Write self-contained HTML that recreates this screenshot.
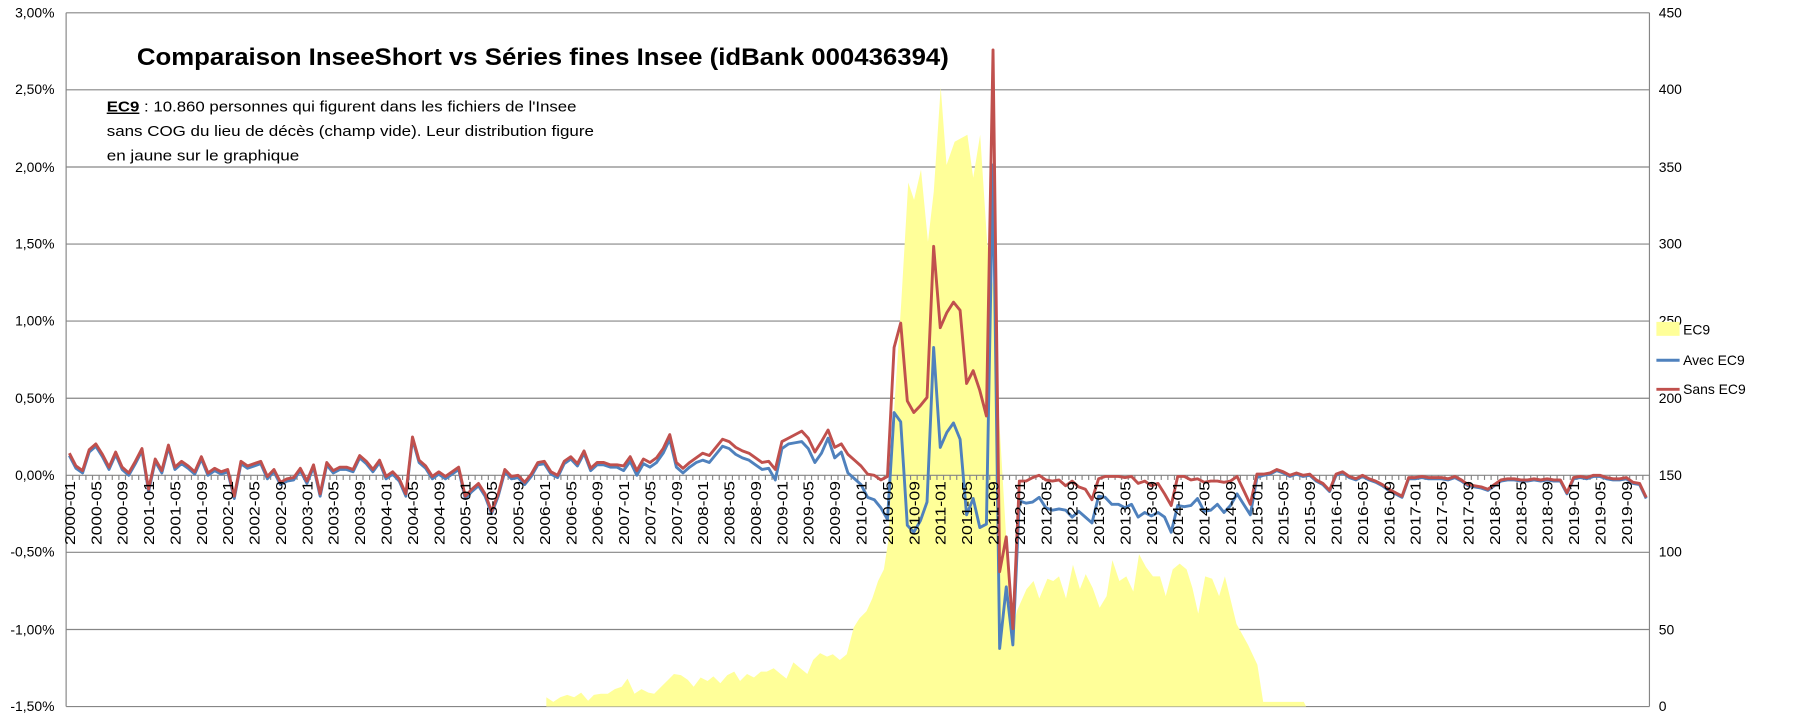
<!DOCTYPE html>
<html><head><meta charset="utf-8"><style>html,body{margin:0;padding:0;background:#fff;overflow:hidden}svg{display:block}text{font-family:"Liberation Sans",Arial,sans-serif;fill:#000}</style></head>
<body>
<svg id="s" width="1813" height="717" viewBox="0 0 1563 617" preserveAspectRatio="none" xmlns="http://www.w3.org/2000/svg">
<rect width="1563" height="617" fill="#fff"/>
<g stroke="#868686" stroke-width="1">
<line x1="57" y1="11" x2="1422" y2="11"/><line x1="57" y1="77.3" x2="1422" y2="77.3"/><line x1="57" y1="143.7" x2="1422" y2="143.7"/><line x1="57" y1="210" x2="1422" y2="210"/><line x1="57" y1="276.3" x2="1422" y2="276.3"/><line x1="57" y1="342.7" x2="1422" y2="342.7"/><line x1="57" y1="475.3" x2="1422" y2="475.3"/><line x1="57" y1="541.7" x2="1422" y2="541.7"/><line x1="57" y1="608" x2="1422" y2="608"/>
</g>
<polygon id="yel" fill="#FFFF99" points=""/>
<g id="ax" stroke="#868686" stroke-width="1"><line x1="57" y1="409" x2="1422" y2="409"/><line x1="57" y1="11" x2="57" y2="608"/><line x1="1422" y1="11" x2="1422" y2="608"/></g>
<polyline id="blue" fill="none" stroke="#4F81BD" stroke-width="2.5" stroke-linejoin="round" points=""/>
<polyline id="red" fill="none" stroke="#C0504D" stroke-width="2.5" stroke-linejoin="round" points=""/>
<g font-size="12" text-anchor="end">
<text x="47" y="15">3,00%</text><text x="47" y="81">2,50%</text><text x="47" y="148">2,00%</text><text x="47" y="214">1,50%</text><text x="47" y="280">1,00%</text><text x="47" y="347">0,50%</text><text x="47" y="413">0,00%</text><text x="47" y="479">-0,50%</text><text x="47" y="546">-1,00%</text><text x="47" y="612">-1,50%</text>
</g>
<g font-size="12">
<text x="1430" y="15">450</text><text x="1430" y="81">400</text><text x="1430" y="148">350</text><text x="1430" y="214">300</text><text x="1430" y="280">250</text><text x="1430" y="347">200</text><text x="1430" y="413">150</text><text x="1430" y="479">100</text><text x="1430" y="546">50</text><text x="1430" y="612">0</text>
</g>
<text x="118" y="56" font-size="21" font-weight="bold" textLength="700" lengthAdjust="spacingAndGlyphs">Comparaison InseeShort vs Séries fines Insee (idBank 000436394)</text>
<g font-size="12.5">
<text x="92" y="96" textLength="405" lengthAdjust="spacingAndGlyphs"><tspan font-weight="bold" text-decoration="underline">EC9</tspan> : 10.860 personnes qui figurent dans les fichiers de l'Insee</text>
<text x="92" y="117" textLength="420" lengthAdjust="spacingAndGlyphs">sans COG du lieu de décès (champ vide).  Leur distribution  figure</text>
<text x="92" y="138" textLength="166" lengthAdjust="spacingAndGlyphs">en jaune sur le graphique</text>
</g>
<rect x="1428" y="277" width="20" height="12" fill="#FFFF99"/>
<line x1="1428" y1="310" x2="1448" y2="310" stroke="#4F81BD" stroke-width="2.5"/>
<line x1="1428" y1="335" x2="1448" y2="335" stroke="#C0504D" stroke-width="2.5"/>
<g font-size="12"><text x="1451" y="288">EC9</text><text x="1451" y="314">Avec EC9</text><text x="1451" y="339">Sans EC9</text></g>
<g font-size="13" text-anchor="end" id="xl">
<text transform="translate(64.5,414) rotate(-90)" textLength="55" lengthAdjust="spacingAndGlyphs">2000-01</text>
<text transform="translate(87.3,414) rotate(-90)" textLength="55" lengthAdjust="spacingAndGlyphs">2000-05</text>
<text transform="translate(110,414) rotate(-90)" textLength="55" lengthAdjust="spacingAndGlyphs">2000-09</text>
<text transform="translate(132.8,414) rotate(-90)" textLength="55" lengthAdjust="spacingAndGlyphs">2001-01</text>
<text transform="translate(155.5,414) rotate(-90)" textLength="55" lengthAdjust="spacingAndGlyphs">2001-05</text>
<text transform="translate(178.3,414) rotate(-90)" textLength="55" lengthAdjust="spacingAndGlyphs">2001-09</text>
<text transform="translate(201,414) rotate(-90)" textLength="55" lengthAdjust="spacingAndGlyphs">2002-01</text>
<text transform="translate(223.8,414) rotate(-90)" textLength="55" lengthAdjust="spacingAndGlyphs">2002-05</text>
<text transform="translate(246.5,414) rotate(-90)" textLength="55" lengthAdjust="spacingAndGlyphs">2002-09</text>
<text transform="translate(269.3,414) rotate(-90)" textLength="55" lengthAdjust="spacingAndGlyphs">2003-01</text>
<text transform="translate(292,414) rotate(-90)" textLength="55" lengthAdjust="spacingAndGlyphs">2003-05</text>
<text transform="translate(314.8,414) rotate(-90)" textLength="55" lengthAdjust="spacingAndGlyphs">2003-09</text>
<text transform="translate(337.5,414) rotate(-90)" textLength="55" lengthAdjust="spacingAndGlyphs">2004-01</text>
<text transform="translate(360.3,414) rotate(-90)" textLength="55" lengthAdjust="spacingAndGlyphs">2004-05</text>
<text transform="translate(383,414) rotate(-90)" textLength="55" lengthAdjust="spacingAndGlyphs">2004-09</text>
<text transform="translate(405.8,414) rotate(-90)" textLength="55" lengthAdjust="spacingAndGlyphs">2005-01</text>
<text transform="translate(428.5,414) rotate(-90)" textLength="55" lengthAdjust="spacingAndGlyphs">2005-05</text>
<text transform="translate(451.3,414) rotate(-90)" textLength="55" lengthAdjust="spacingAndGlyphs">2005-09</text>
<text transform="translate(474,414) rotate(-90)" textLength="55" lengthAdjust="spacingAndGlyphs">2006-01</text>
<text transform="translate(496.8,414) rotate(-90)" textLength="55" lengthAdjust="spacingAndGlyphs">2006-05</text>
<text transform="translate(519.5,414) rotate(-90)" textLength="55" lengthAdjust="spacingAndGlyphs">2006-09</text>
<text transform="translate(542.3,414) rotate(-90)" textLength="55" lengthAdjust="spacingAndGlyphs">2007-01</text>
<text transform="translate(565,414) rotate(-90)" textLength="55" lengthAdjust="spacingAndGlyphs">2007-05</text>
<text transform="translate(587.8,414) rotate(-90)" textLength="55" lengthAdjust="spacingAndGlyphs">2007-09</text>
<text transform="translate(610.5,414) rotate(-90)" textLength="55" lengthAdjust="spacingAndGlyphs">2008-01</text>
<text transform="translate(633.3,414) rotate(-90)" textLength="55" lengthAdjust="spacingAndGlyphs">2008-05</text>
<text transform="translate(656,414) rotate(-90)" textLength="55" lengthAdjust="spacingAndGlyphs">2008-09</text>
<text transform="translate(678.8,414) rotate(-90)" textLength="55" lengthAdjust="spacingAndGlyphs">2009-01</text>
<text transform="translate(701.5,414) rotate(-90)" textLength="55" lengthAdjust="spacingAndGlyphs">2009-05</text>
<text transform="translate(724.3,414) rotate(-90)" textLength="55" lengthAdjust="spacingAndGlyphs">2009-09</text>
<text transform="translate(747,414) rotate(-90)" textLength="55" lengthAdjust="spacingAndGlyphs">2010-01</text>
<text transform="translate(769.8,414) rotate(-90)" textLength="55" lengthAdjust="spacingAndGlyphs">2010-05</text>
<text transform="translate(792.5,414) rotate(-90)" textLength="55" lengthAdjust="spacingAndGlyphs">2010-09</text>
<text transform="translate(815.3,414) rotate(-90)" textLength="55" lengthAdjust="spacingAndGlyphs">2011-01</text>
<text transform="translate(838,414) rotate(-90)" textLength="55" lengthAdjust="spacingAndGlyphs">2011-05</text>
<text transform="translate(860.8,414) rotate(-90)" textLength="55" lengthAdjust="spacingAndGlyphs">2011-09</text>
<text transform="translate(883.5,414) rotate(-90)" textLength="55" lengthAdjust="spacingAndGlyphs">2012-01</text>
<text transform="translate(906.3,414) rotate(-90)" textLength="55" lengthAdjust="spacingAndGlyphs">2012-05</text>
<text transform="translate(929,414) rotate(-90)" textLength="55" lengthAdjust="spacingAndGlyphs">2012-09</text>
<text transform="translate(951.8,414) rotate(-90)" textLength="55" lengthAdjust="spacingAndGlyphs">2013-01</text>
<text transform="translate(974.5,414) rotate(-90)" textLength="55" lengthAdjust="spacingAndGlyphs">2013-05</text>
<text transform="translate(997.3,414) rotate(-90)" textLength="55" lengthAdjust="spacingAndGlyphs">2013-09</text>
<text transform="translate(1020,414) rotate(-90)" textLength="55" lengthAdjust="spacingAndGlyphs">2014-01</text>
<text transform="translate(1042.8,414) rotate(-90)" textLength="55" lengthAdjust="spacingAndGlyphs">2014-05</text>
<text transform="translate(1065.5,414) rotate(-90)" textLength="55" lengthAdjust="spacingAndGlyphs">2014-09</text>
<text transform="translate(1088.3,414) rotate(-90)" textLength="55" lengthAdjust="spacingAndGlyphs">2015-01</text>
<text transform="translate(1111,414) rotate(-90)" textLength="55" lengthAdjust="spacingAndGlyphs">2015-05</text>
<text transform="translate(1133.8,414) rotate(-90)" textLength="55" lengthAdjust="spacingAndGlyphs">2015-09</text>
<text transform="translate(1156.5,414) rotate(-90)" textLength="55" lengthAdjust="spacingAndGlyphs">2016-01</text>
<text transform="translate(1179.3,414) rotate(-90)" textLength="55" lengthAdjust="spacingAndGlyphs">2016-05</text>
<text transform="translate(1202,414) rotate(-90)" textLength="55" lengthAdjust="spacingAndGlyphs">2016-09</text>
<text transform="translate(1224.8,414) rotate(-90)" textLength="55" lengthAdjust="spacingAndGlyphs">2017-01</text>
<text transform="translate(1247.5,414) rotate(-90)" textLength="55" lengthAdjust="spacingAndGlyphs">2017-05</text>
<text transform="translate(1270.3,414) rotate(-90)" textLength="55" lengthAdjust="spacingAndGlyphs">2017-09</text>
<text transform="translate(1293,414) rotate(-90)" textLength="55" lengthAdjust="spacingAndGlyphs">2018-01</text>
<text transform="translate(1315.8,414) rotate(-90)" textLength="55" lengthAdjust="spacingAndGlyphs">2018-05</text>
<text transform="translate(1338.5,414) rotate(-90)" textLength="55" lengthAdjust="spacingAndGlyphs">2018-09</text>
<text transform="translate(1361.3,414) rotate(-90)" textLength="55" lengthAdjust="spacingAndGlyphs">2019-01</text>
<text transform="translate(1384,414) rotate(-90)" textLength="55" lengthAdjust="spacingAndGlyphs">2019-05</text>
<text transform="translate(1406.8,414) rotate(-90)" textLength="55" lengthAdjust="spacingAndGlyphs">2019-09</text>
</g>
</svg>
<script>
var red=[390,401,405,387,382,391,402,389,402,407,397,386,
421,395,405,383,402,397,401,406,393,407,403,406,
404,427,397,401,399,397,410,404,415,412,411,403,
414,400,425,398,405,402,402,404,392,397,404,396,
410,406,412,425,376,396,401,410,406,410,406,402,
427,421,416,425,440,425,404,410,409,415,408,398,
397,406,409,397,393,399,388,403,398,398,400,400,
401,393,405,395,398,394,386,374,398,403,398,394,
390,392,385,378,380,385,388,390,394,398,397,404,
380,377,374,371,377,389,380,370,385,382,
391,396,401,408,409,413,410,299,278,345,355,349,342,212,282,269,260,267,330,319,336,358,43,492,462,541,
414,414,411,409,413,414,413,418,414,419,421,430,412,410,410,410,411,410,416,414,418,416,425,435,
410,410,413,412,415,414,414,415,414,410,422,434,408,408,407,404,406,409,407,409,408,413,416,422,408,406,410,
412,409,412,414,417,421,424,427,411,411,410,411,411,411,412,410,413,417,418,419,421,417,413,412,412,413,413,412,413,412,413,413,424,411,410,411,409,409,411,412,412,411,415,416,428];
var bmid=[407,412,417,428,430,437,447,355,363,452,458,448,432,299,385,372,364,378,443,429,454,451,142,558,505,555,431,433,432,428,437,439,438,439,445,440,445,450,427,428,434,434,437,434,445,441,444,441,445,458,435,436,435,429,440,439,434,441,435,425,434,443,411];
var b109=[386,382,381,380,386,398,390,377,394,389];
function X(i){return 59.84+5.6875*i;}
var rp=[],bp=[];
for(var i=0;i<red.length;i++){
 var b;
 if(i<84)b=red[i]+2;else if(i<96)b=red[i]+4;else if(i<107)b=red[i]+6;else if(i==107)b=413;else if(i<118)b=b109[i-108];else if(i<=180)b=bmid[i-118];else b=red[i]+1;
 rp.push(X(i).toFixed(1)+","+red[i]);bp.push(X(i).toFixed(1)+","+b);
}
document.getElementById("red").setAttribute("points",rp.join(" "));
document.getElementById("blue").setAttribute("points",bp.join(" "));
var y="471,608 471,600 477,604 483,600 489,598 495,600 501,596 507,603 512,598 518,597 524,597 530,593 536,591 541,584 547,597 553,593 559,596 564,597 570,591 576,585 581,580 587,581 593,585 598,591 604,583 610,586 615,582 621,588 627,581 633,578 638,586 644,580 650,583 656,578 661,578 667,575 673,580 678,584 684,570 690,575 696,580 701,568 707,562 713,565 718,563 724,568 730,563 736,540 741,532 747,526 752,515 757,500 762,490 766,464 771,350 777,260 783,157 788,172 794,146 800,208 805,165 811,75 816,142 823,122 834,116 839,153 845,116 851,208 857,252 861,354 868,472 873,540 877,525 885,507 891,500 896,515 903,498 908,500 913,496 919,515 925,486 931,507 936,494 942,506 948,523 954,513 959,482 965,500 971,496 977,509 982,477 988,488 994,496 1000,496 1005,513 1011,490 1017,485 1023,490 1028,506 1033,528 1039,496 1045,498 1051,513 1056,496 1066,537 1076,555 1084,572 1089,604 1124,604 1126,608";
document.getElementById("yel").setAttribute("points",y);
var ax=document.getElementById("ax"),NS="http://www.w3.org/2000/svg";
for(var k=0;k<=240;k++){var l=document.createElementNS(NS,"line");var x=57+5.6875*k;l.setAttribute("x1",x);l.setAttribute("x2",x);l.setAttribute("y1",409);l.setAttribute("y2",413);ax.appendChild(l);}
</script>
</body></html>
